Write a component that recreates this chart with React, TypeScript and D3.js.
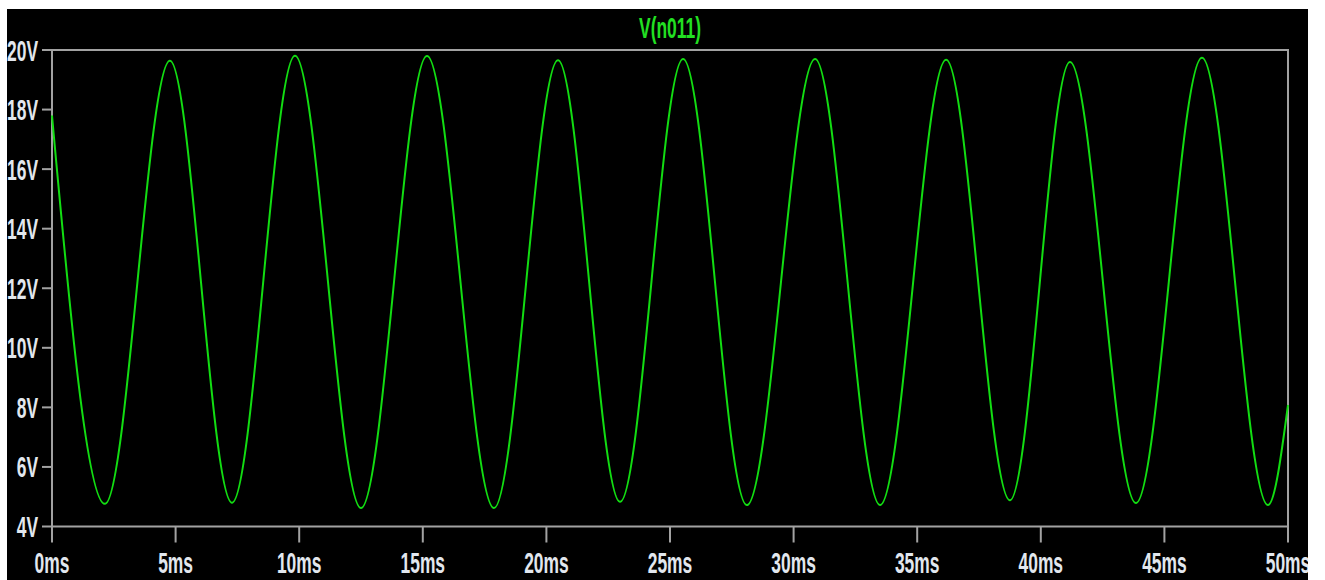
import React from 'react';
import * as d3 from 'd3';

// V(n011) transient trace: start, alternating troughs/peaks, end
const timeMs = [0, 2.14, 4.77, 7.28, 9.83, 12.5, 15.17, 17.88, 20.47, 22.98, 25.53, 28.11, 30.87, 33.5, 36.17, 38.75, 41.18, 43.85, 46.52, 49.19, 50];
const volts = [17.8, 4.76, 19.64, 4.8, 19.81, 4.62, 19.8, 4.62, 19.66, 4.83, 19.7, 4.72, 19.7, 4.72, 19.67, 4.88, 19.6, 4.79, 19.74, 4.72, 8.08];

const yTicks = [4, 6, 8, 10, 12, 14, 16, 18, 20];
const xTicks = [0, 5, 10, 15, 20, 25, 30, 35, 40, 45, 50];
const title = 'V(n011)';

const W = 1301;
const H = 571;
const OX = 7; // page offset of the black panel
const OY = 9;
const plot = { left: 52, right: 1288, top: 50, bottom: 526.5 };

// narrow bold look: Arial-metric font squeezed horizontally
const FONT = "'Liberation Sans', Arial, sans-serif";
const FS = 30;
const SQUEEZE = 0.58;
const labelColor = '#e2e7ee';
const frameColor = '#a2a2a2';

export default function App() {
  const x = d3.scaleLinear().domain([0, 50]).range([plot.left, plot.right]);
  const y = d3.scaleLinear().domain([4, 20]).range([plot.bottom, plot.top]);

  const pts = timeMs.map((t, i) => ({ t, v: volts[i] }));
  const line = d3.line<{ t: number; v: number }>()
    .x(d => x(d.t))
    .y(d => y(d.v))
    .curve(d3.curveMonotoneX);

  const txt = (tx: number, ty: number) => `translate(${tx},${ty}) scale(${SQUEEZE},1)`;

  return (
    <svg
      width={W}
      height={H}
      style={{ position: 'absolute', left: OX, top: OY, display: 'block' }}
    >
      <rect x={0} y={0} width={W} height={H} fill="#000" />
      <g transform={`translate(${-OX},${-OY})`}>
        {/* frame */}
        <rect
          x={plot.left}
          y={plot.top}
          width={plot.right - plot.left}
          height={plot.bottom - plot.top}
          fill="none"
          stroke={frameColor}
          strokeWidth={2}
        />

        {/* y ticks + labels */}
        {yTicks.map(v => (
          <g key={'y' + v}>
            <line x1={plot.left - 10} x2={plot.left} y1={y(v)} y2={y(v)} stroke={frameColor} strokeWidth={2} />
            <text
              transform={txt(plot.left - 14, y(v) + 10.5)}
              textAnchor="end"
              fontFamily={FONT}
              fontWeight="bold"
              fontSize={FS}
              fill={labelColor}
            >
              {v}V
            </text>
          </g>
        ))}

        {/* x ticks + labels */}
        {xTicks.map(t => (
          <g key={'x' + t}>
            <line x1={x(t)} x2={x(t)} y1={plot.bottom} y2={plot.bottom + 16} stroke={frameColor} strokeWidth={2} />
            <text
              transform={txt(x(t), 573)}
              textAnchor="middle"
              fontFamily={FONT}
              fontWeight="bold"
              fontSize={FS}
              fill={labelColor}
            >
              {t}ms
            </text>
          </g>
        ))}

        {/* title */}
        <text
          transform={txt((plot.left + plot.right) / 2, 38)}
          textAnchor="middle"
          fontFamily={FONT}
          fontWeight="bold"
          fontSize={FS}
          fill="#22e022"
        >
          {title}
        </text>

        {/* trace */}
        <path d={line(pts) || ''} fill="none" stroke="#12dd12" strokeWidth={2} />
      </g>
    </svg>
  );
}
